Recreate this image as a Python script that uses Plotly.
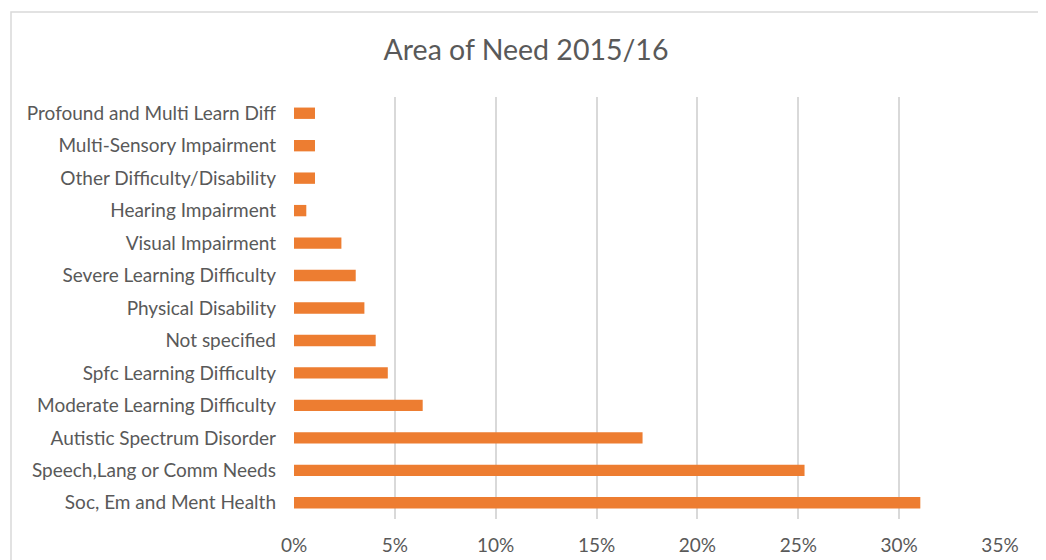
import plotly.graph_objects as go

categories = [
    "Soc, Em and Ment Health",
    "Speech,Lang or Comm Needs",
    "Autistic Spectrum Disorder",
    "Moderate Learning Difficulty",
    "Spfc Learning Difficulty",
    "Not specified",
    "Physical Disability",
    "Severe Learning Difficulty",
    "Visual Impairment",
    "Hearing Impairment",
    "Other Difficulty/Disability",
    "Multi-Sensory Impairment",
    "Profound and Multi Learn Diff",
]
values = [0.3105, 0.2531, 0.1728, 0.0638, 0.0465, 0.0405, 0.0349, 0.0306,
          0.0235, 0.0061, 0.0104, 0.0104, 0.0104]
tick_values = [0, 0.05, 0.10, 0.15, 0.20, 0.25, 0.30, 0.35]
tick_labels = ["0%", "5%", "10%", "15%", "20%", "25%", "30%", "35%"]
title_text = "Area of Need 2015/16"

FONT = "Lato"
GREY = "#595959"
OFF = 8  # page body margin

fig = go.Figure()
fig.add_trace(go.Bar(
    y=categories, x=values, orientation="h",
    marker=dict(color="#ED7D31", line=dict(width=0)),
    hoverinfo="x+y",
))

W, H = 1046 - OFF, 560 - OFF
L, T = 294 - OFF, 97 - OFF
pw, ph = 1000 - 294, 519 - 97
R, B = W - L - pw, H - T - ph


def px_x(x):
    return (x - OFF - L) / pw


def px_y(y):
    return (T + ph - (y - OFF)) / ph


fig.update_layout(
    width=W, height=H,
    margin=dict(l=L, r=R, t=T, b=B, pad=0, autoexpand=False),
    paper_bgcolor="white", plot_bgcolor="white",
    bargap=0.65,
    showlegend=False,
    title=dict(text=title_text, x=(526 - OFF) / W, xref="container", xanchor="center",
               y=1 - (50 - OFF) / H, yref="container", yanchor="middle",
               font=dict(family=FONT, size=28.5, color=GREY)),
    font=dict(family=FONT, size=19, color=GREY),
    xaxis=dict(range=[0, 0.35], tickvals=tick_values, ticktext=tick_labels,
               showgrid=True, gridcolor="#d9d9d9", gridwidth=1.5,
               zeroline=False, showline=False, ticks="", automargin=False,
               ticklabelstandoff=13,
               tickfont=dict(family=FONT, size=19, color=GREY)),
    yaxis=dict(showgrid=False, zeroline=False, showline=False, ticks="", automargin=False,
               ticklabelstandoff=17,
               tickfont=dict(family=FONT, size=19, color=GREY)),
    shapes=[dict(type="rect", xref="paper", yref="paper",
                 x0=px_x(11), x1=px_x(1042), y0=px_y(600), y1=px_y(12),
                 line=dict(color="#d9d9d9", width=1.5), fillcolor="rgba(0,0,0,0)",
                 layer="below")],
)

fig.write_html("out.html")
